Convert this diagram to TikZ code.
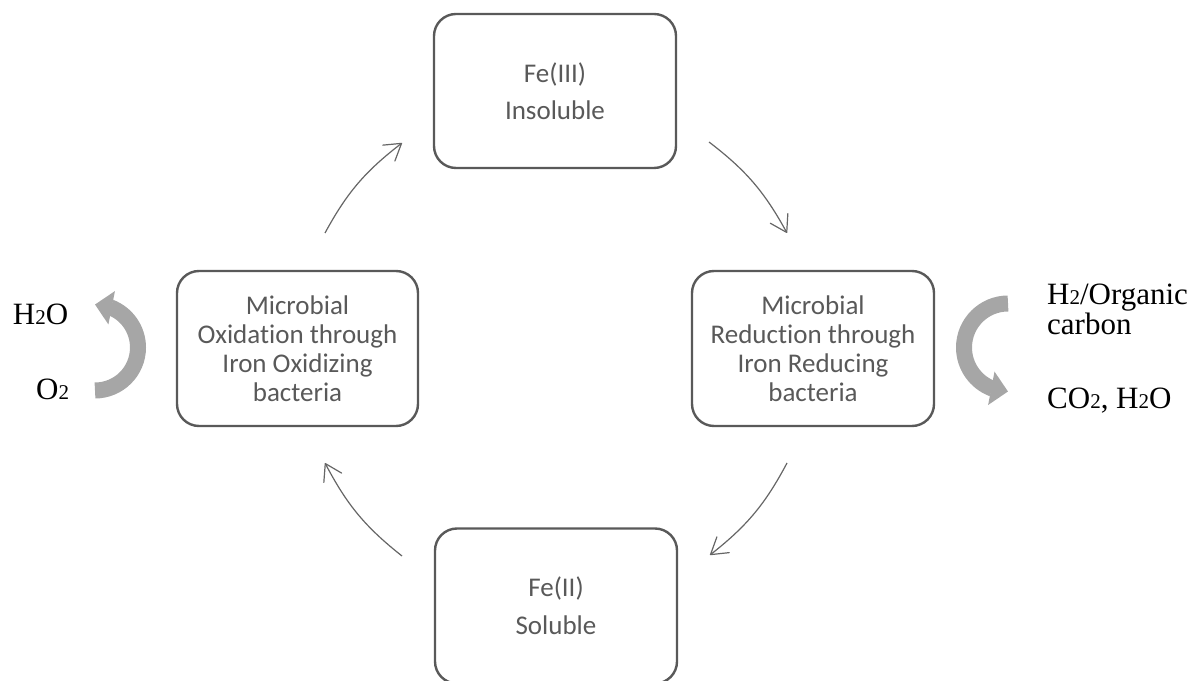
\documentclass[tikz,border=0pt]{standalone}
\usepackage{fontspec}
\setmainfont{Liberation Serif}
\newfontfamily\boxfont[Ligatures=NoCommon]{Carlito}
\usetikzlibrary{arrows.meta,bending,calc}
\definecolor{boxgray}{HTML}{595959}
\definecolor{txtgray}{HTML}{595959}
\definecolor{linegray}{HTML}{666666}
\definecolor{arrgray}{HTML}{A6A6A6}
\newcommand{\subtwo}{{\fontsize{21}{21}\selectfont 2}}
\begin{document}
\begin{tikzpicture}[x=1pt,y=1pt,
  stagebox/.style={draw=boxgray, line width=2.4pt, rounded corners=22pt, inner sep=0pt,
    align=center, text=txtgray, font=\boxfont\fontsize{27}{29}\selectfont},
  cycarrow/.style={draw=linegray, line width=1.2pt,
    -{Straight Barb[length=16pt,width=20pt,round]}, bend left=12},
  sidearrow/.style={draw=arrgray, line width=16pt, -{Triangle[length=17pt,width=33pt,flex]}},
  chem/.style={font=\fontsize{31}{31}\selectfont, anchor=base west, inner sep=0pt}
]
\useasboundingbox (0,0) rectangle (1196,680);

% stage boxes
\node[stagebox, minimum width=242pt, minimum height=154pt] (T) at (555,589) {Fe(III)\\[8pt]Insoluble};
\node[stagebox, minimum width=242pt, minimum height=155pt] (B) at (556,74) {Fe(II)\\[9pt]Soluble};
\node[stagebox, minimum width=241pt, minimum height=155pt] (L) at (297.5,331.5)
  {Microbial\\Oxidation through\\Iron Oxidizing\\bacteria};
\node[stagebox, minimum width=242pt, minimum height=155pt] (R) at (813,331.5)
  {Microbial\\Reduction through\\Iron Reducing\\bacteria};

% cycle connectors
\coordinate (c1s) at (325,447);
\coordinate (c1e) at (402,537);
\coordinate (c2s) at (709,538);
\coordinate (c2e) at (787,447);
\coordinate (c3s) at (787,217);
\coordinate (c3e) at (710,125);
\coordinate (c4s) at (402,124);
\coordinate (c4e) at (325,217);
\draw[cycarrow] (c1s) to (c1e);
\draw[cycarrow] (c2s) to (c2e);
\draw[cycarrow] (c3s) to (c3e);
\draw[cycarrow] (c4s) to (c4e);

% side arrows
\draw[sidearrow] (95,289.5) arc[start angle=-90, end angle=90, radius=43];
\draw[sidearrow] (1008,376.5) arc[start angle=90, end angle=270, radius=44];

% chemical labels
\node[chem] (h2o) at (12.7,355) {H\subtwo O};
\node[chem] (o2) at (36,280) {O\subtwo};
\node[chem] (h2org) at (1047,375) {H\subtwo/Organic};
\node[chem] (carb) at (1047,345) {carbon};
\node[chem] (co2) at (1047,271) {CO\subtwo, H\subtwo O};
\end{tikzpicture}
\end{document}
